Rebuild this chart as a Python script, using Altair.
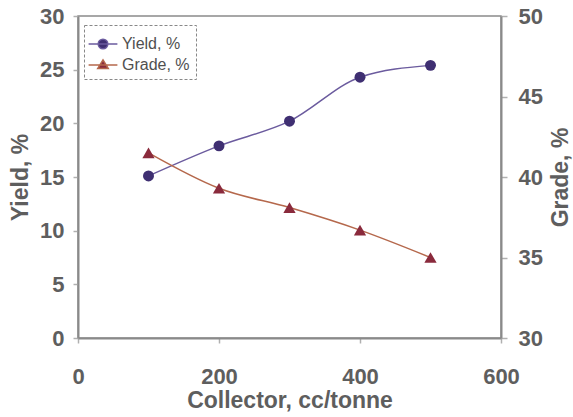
import altair as alt
import pandas as pd

# Collector dosage (cc/tonne) and flotation results
collector = [100, 200, 300, 400, 500]
yield_pct = [15.1, 17.9, 20.2, 24.3, 25.4]
grade_pct = [41.5, 39.3, 38.1, 36.7, 35.0]

series = ["Yield, %", "Grade, %"]
fills = ["#3f2f72", "#8a2a3c"]
strokes = ["#6b5b9e", "#b5684c"]
# legend glyphs: a short line with the marker drawn over it
glyphs = [
    "M-1.2,0H1.2M0.4,0A0.4,0.4 0 1,1 -0.4,0A0.4,0.4 0 1,1 0.4,0Z",
    "M-1.2,0H1.2M0,-0.42L0.44,0.3H-0.44Z",
]

df = pd.DataFrame({"collector": collector, "yield": yield_pct, "grade": grade_pct})
legend_df = pd.DataFrame({"series": series, "collector": [None, None]})

FONT = "Liberation Sans"
TXT = "#5e5e5e"
AX = "#8a8a8a"
W, H = 423, 322

x = alt.X(
    "collector:Q",
    scale=alt.Scale(domain=[0, 600]),
    axis=alt.Axis(
        values=[0, 200, 400, 600], title="Collector, cc/tonne",
        labelPadding=23, tickSize=5, titlePadding=2, labelFlush=False,
    ),
)

y_left = alt.Y(
    "yield:Q",
    scale=alt.Scale(domain=[0, 30]),
    axis=alt.Axis(values=[0, 5, 10, 15, 20, 25, 30], title="Yield, %",
                  orient="left", labelPadding=9, tickSize=5, labelFlush=False,
                  titleAngle=270, titleX=-58, titleY=H / 2,
                  titleAlign="center", titleBaseline="middle"),
)
y_right = alt.Y(
    "grade:Q",
    scale=alt.Scale(domain=[30, 50]),
    axis=alt.Axis(values=[30, 35, 40, 45, 50], title="Grade, %",
                  orient="right", labelPadding=11, tickSize=6, labelFlush=False,
                  titleAngle=270, titleX=59, titleY=H / 2,
                  titleAlign="center", titleBaseline="middle"),
)

base = alt.Chart(df)
yield_line = base.mark_line(color=strokes[0], strokeWidth=1.5, interpolate="monotone").encode(x=x, y=y_left)
yield_pts = base.mark_point(filled=True, shape="circle", size=120, color=fills[0], opacity=1).encode(x=x, y=y_left)
grade_line = base.mark_line(color=strokes[1], strokeWidth=1.5, interpolate="monotone").encode(x=x, y=y_right)
grade_pts = base.mark_point(filled=True, shape="triangle-up", size=150, color=fills[1], opacity=1).encode(x=x, y=y_right)

leg = alt.Legend(
    title=None, orient="none", legendX=6, legendY=9,
    symbolSize=576, rowPadding=0, labelOffset=6, padding=6,
    labelFontSize=16, labelFont=FONT, labelColor="#505050",
    strokeColor="#888888", symbolStrokeWidth=1.5,
)
legend_layer = alt.Chart(legend_df).mark_point(filled=True, opacity=1, strokeWidth=1.5).encode(
    x=alt.X("collector:Q"),
    fill=alt.Fill("series:N", scale=alt.Scale(domain=series, range=fills), legend=leg),
    stroke=alt.Stroke("series:N", scale=alt.Scale(domain=series, range=strokes), legend=leg),
    shape=alt.Shape("series:N", scale=alt.Scale(domain=series, range=glyphs), legend=leg),
)

chart = alt.layer(
    alt.layer(yield_line, yield_pts),
    alt.layer(grade_line, grade_pts),
    legend_layer,
).resolve_scale(y="independent").properties(
    width=W, height=H,
    autosize=alt.AutoSizeParams(type="none"),
    padding={"left": 78, "top": 16, "right": 72, "bottom": 79},
).configure_view(
    stroke=AX, strokeWidth=1.5,
).configure_axis(
    grid=False,
    domainColor=AX, domainWidth=2,
    tickColor="#b0b0b0", tickWidth=1.5,
    labelFont=FONT, labelFontSize=22, labelFontWeight="bold", labelColor=TXT,
    titleFont=FONT, titleFontSize=23, titleFontWeight="bold", titleColor=TXT,
).configure_legend(
    strokeDash=[3, 2],
)

chart.save("out.html", embed_options={"renderer": "svg", "actions": False})
